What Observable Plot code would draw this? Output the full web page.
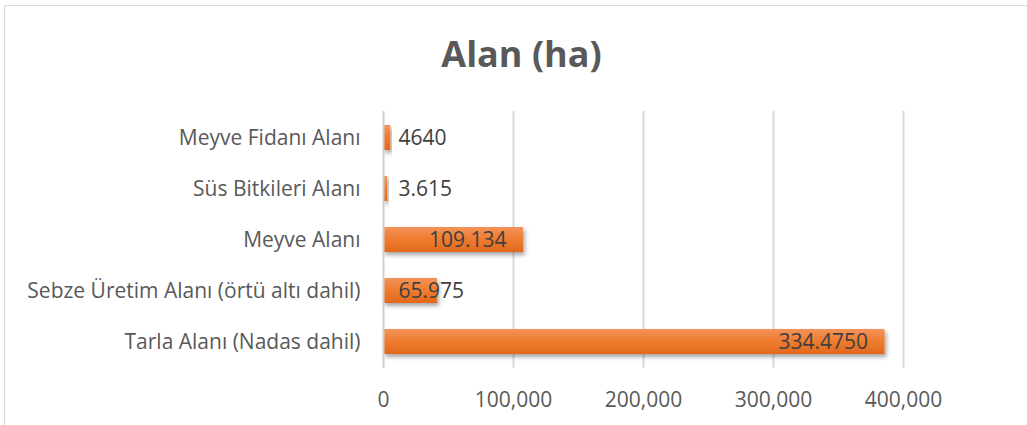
<!DOCTYPE html>
<html>
<head>
<meta charset="utf-8">
<script src="https://cdn.jsdelivr.net/npm/d3@7"></script>
<script src="https://cdn.jsdelivr.net/npm/@observablehq/plot@0.6"></script>
<style>
  html, body { margin: 0; padding: 0; background: #fff; }
  #wrap { position: relative; width: 1027px; height: 425px; overflow: hidden; }
  #frame { position: absolute; left: 4px; top: 5px; width: 1100px; height: 500px; border-top: 1.5px solid #d9d9d9; border-left: 1.5px solid #d9d9d9; }
  #title { position: absolute; left: 0; width: 1043px; top: 29px; text-align: center; font-family: "Open Sans", sans-serif; font-weight: 700; font-size: 36px; color: #595959; }
  #chart { position: absolute; left: 0; top: 0; }
</style>
</head>
<body>
<div id="wrap">
  <div id="frame"></div>
  <div id="title">Alan (ha)</div>
  <div id="chart"></div>
</div>
<script>
const categories = ["Tarla Alanı (Nadas dahil)", "Sebze Üretim Alanı (örtü altı dahil)", "Meyve Alanı", "Süs Bitkileri Alanı", "Meyve Fidanı Alanı"];
const values = [385800, 41500, 107700, 3300, 5600];
const labels = ["334.4750", "65.975", "109.134", "3.615", "4640"];
const xTicks = [0, 100000, 200000, 300000, 400000];

const data = categories.map((c, i) => ({category: c, value: values[i], label: labels[i], inside: values[i] > 50000}));

const plot = Plot.plot({
  width: 1027,
  height: 425,
  marginLeft: 383,
  marginRight: 124,
  marginTop: 111,
  marginBottom: 57,
  style: {fontFamily: "Open Sans, sans-serif", background: "transparent", overflow: "visible"},
  x: {domain: [0, 400000], ticks: xTicks, tickFormat: d3.format(","), label: null},
  y: {domain: categories.slice().reverse(), label: null, paddingInner: 0.51, paddingOuter: 0.255},
  marks: [
    Plot.gridX(xTicks.slice(1), {stroke: "#d9d9d9", strokeOpacity: 1, strokeWidth: 2}),
    Plot.barX(data, {y: "category", x: "value", fill: "url(#barGrad)", className: "bars"}),
    Plot.ruleX([0], {stroke: "#d0d0d0", strokeWidth: 2}),
    Plot.axisX({ticks: xTicks, tickFormat: d3.format(","), tickSize: 0, tickPadding: 24, fontSize: 21, fill: "#595959", label: null}),
    Plot.axisY({tickSize: 0, tickPadding: 23, fontSize: 21, fill: "#595959", label: null}),
    Plot.text(data.filter(d => d.inside), {y: "category", x: "value", text: "label", textAnchor: "end", dx: -17, fontSize: 21, fill: "#404040"}),
    Plot.text(data.filter(d => !d.inside), {y: "category", x: 0, text: "label", textAnchor: "start", dx: 15, fontSize: 21, fill: "#404040"})
  ]
});

const svg = d3.select(plot);
const defs = svg.insert("defs", ":first-child");
const g = defs.append("linearGradient").attr("id", "barGrad").attr("x1", 0).attr("y1", 0).attr("x2", 0).attr("y2", 1);
g.append("stop").attr("offset", "0%").attr("stop-color", "#f3935a");
g.append("stop").attr("offset", "50%").attr("stop-color", "#ee7b2f");
g.append("stop").attr("offset", "100%").attr("stop-color", "#e2691c");
const f = defs.append("filter").attr("id", "barShadow").attr("x", "-10%").attr("y", "-30%").attr("width", "130%").attr("height", "180%");
f.append("feDropShadow").attr("dx", 2).attr("dy", 3).attr("stdDeviation", 2).attr("flood-color", "#000").attr("flood-opacity", 0.35);
svg.selectAll("g.bars rect, .bars rect").attr("filter", "url(#barShadow)");

document.getElementById("chart").appendChild(plot);
</script>
</body>
</html>
